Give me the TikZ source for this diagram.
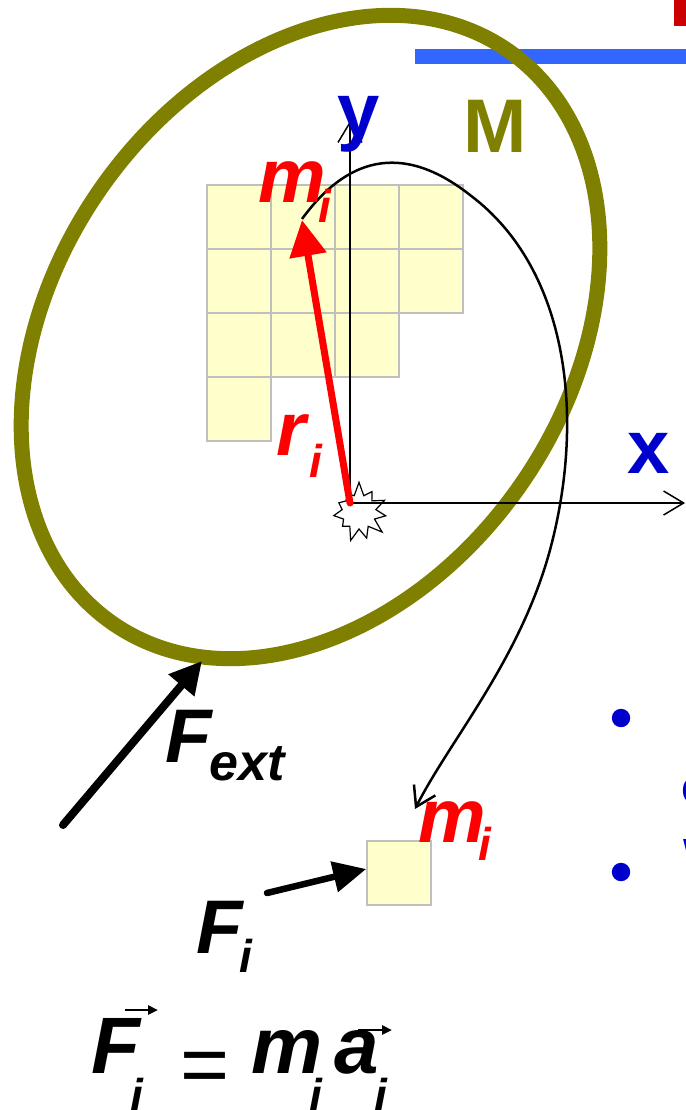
\documentclass[tikz,border=0pt]{standalone}
\usepackage{fontspec}
\setmainfont{Liberation Sans}
\usetikzlibrary{arrows.meta,shapes.symbols}
\definecolor{olivec}{HTML}{808000}
\definecolor{axblue}{HTML}{0000CC}
\definecolor{lineblue}{HTML}{3366FF}
\definecolor{cellfill}{HTML}{FFFFCC}
\definecolor{cellline}{HTML}{BFBFBF}
\definecolor{titlered}{HTML}{CC0000}
\newcommand{\bigsz}{\fontsize{76}{76}\selectfont}
\newcommand{\subsz}{\fontsize{46}{46}\selectfont}
\begin{document}
\begin{tikzpicture}[x=1pt,y=-1pt,
  cell/.style={draw=cellline,fill=cellfill,line width=1.5pt},
  lbl/.style={inner sep=0pt,outer sep=0pt,anchor=base west},
  redlbl/.style={lbl,text=red,font=\bigsz\bfseries\itshape},
  blklbl/.style={lbl,text=black,font=\bigsz\bfseries\itshape},
  bluelbl/.style={lbl,text=axblue,font=\bigsz\bfseries},
  axisline/.style={line width=1.5pt,-{Straight Barb[length=20pt,width=24pt]}},
  pathline/.style={line width=2.5pt,-{Straight Barb[length=19pt,width=24pt]}},
  forcearrow/.style={line width=8pt,line cap=round,-{Triangle[length=32pt,width=32pt]}},
  vecarrow/.style={line width=2.5pt,-{Triangle[length=10pt,width=9pt]}},
]
\useasboundingbox (0,0) rectangle (685,1110);
% header fragments
\fill[titlered] (674,0) rectangle (686,26);
\fill[lineblue] (415,49) rectangle (686,64);
% body M
\draw[olivec,line width=15pt,rotate around={55.5:(310.5,337)}] (310.5,337) ellipse [x radius=348, y radius=257];
% grid of small masses
\foreach \cx/\cy in {207/185,271/185,335/185,399/185,207/249,271/249,335/249,399/249,207/313,271/313,335/313,207/377}
  \draw[cell] (\cx,\cy) rectangle ++(64,64);
% origin
\node[starburst,draw=black,fill=white,line width=1.2pt,minimum width=62pt,minimum height=62pt,
      starburst points=11,starburst point height=14pt,random starburst=7,inner sep=0pt] (star) at (359,512) {};
\coordinate (O) at (350,503);
\coordinate (yend) at (350,121);
\coordinate (xend) at (685,503);
\draw[axisline] (O) -- (yend);
\draw[axisline] (O) -- (xend);
% position vector
\coordinate (mtip) at (302,220);
\draw[red,line width=7pt,line cap=round,-{Triangle[length=36pt,width=36pt]}] (O) -- (mtip);
% path of m_i
\node[cell,minimum size=64pt,inner sep=0pt] (sq) at (399,873) {};
\coordinate (cstart) at (302,219);
\coordinate (cend) at (415,809);
\draw[pathline] (cstart) .. controls (345,160) and (400,140) .. (470,195)
  .. controls (570,270) and (585,420) .. (550,550)
  .. controls (520,660) and (450,740) .. (cend);
% labels
\node[bluelbl] (ylbl) at (337,137) {y};
\node[lbl,text=olivec,font=\bigsz\bfseries] (Mlbl) at (463,153) {M};
\node[bluelbl] (xlbl) at (627,473) {x};
\node[redlbl] (mi) at (258,203) {m\kern-7pt\raisebox{-19pt}{\subsz i}};
\node[redlbl] (ri) at (276,455) {r\kern4pt\raisebox{-22pt}{\subsz i}};
\node[redlbl] (mi2) at (418,842) {m\kern-7pt\raisebox{-18pt}{\subsz i}};
% external force
\coordinate (fe0) at (63,825);
\coordinate (fe1) at (202,661);
\draw[forcearrow] (fe0) -- (fe1);
\node[blklbl] (Fext) at (165,762) {F\kern-2pt\raisebox{-18pt}{\fontsize{52}{52}\selectfont ext}};
% internal force on m_i
\coordinate (fi0) at (267,893);
\draw[line width=6.5pt,line cap=round,-{Triangle[length=33pt,width=30pt]}] (fi0) -- ([yshift=4pt]sq.west);
\node[blklbl] (Fi) at (196,953) {F\kern-3pt\raisebox{-19pt}{\subsz i}};
% bullets
\fill[axblue] (621,718) circle (9.2);
\fill[axblue] (621,872) circle (9.2);
\node[lbl,text=axblue,font=\fontsize{48}{48}\selectfont\bfseries] (frag1) at (681,803) {c};
\node[lbl,text=axblue,font=\fontsize{48}{48}\selectfont\bfseries] (frag2) at (683,872) {W};
% Newton's law
\node[lbl,font=\fontsize{80}{80}\selectfont\bfseries\itshape] (FF) at (91,1073) {F};
\node[lbl,font=\subsz\bfseries\itshape] (FFs) at (130,1111) {i};
\node[lbl,font=\fontsize{84}{84}\selectfont,anchor=base] (eq) at (205,1093) {=};
\node[lbl,font=\fontsize{80}{80}\selectfont\bfseries\itshape] (mm) at (251,1073) {m};
\node[lbl,font=\subsz\bfseries\itshape] (mms) at (309,1111) {i};
\node[lbl,font=\fontsize{80}{80}\selectfont\bfseries\itshape] (aa) at (334,1073) {a};
\node[lbl,font=\subsz\bfseries\itshape] (aas) at (374,1111) {i};
\coordinate (vF1) at (125,1010);
\coordinate (vF2) at (158,1010);
\coordinate (va1) at (358,1030);
\coordinate (va2) at (392,1030);
\draw[vecarrow] (vF1) -- (vF2);
\draw[vecarrow] (va1) -- (va2);
\end{tikzpicture}
\end{document}
